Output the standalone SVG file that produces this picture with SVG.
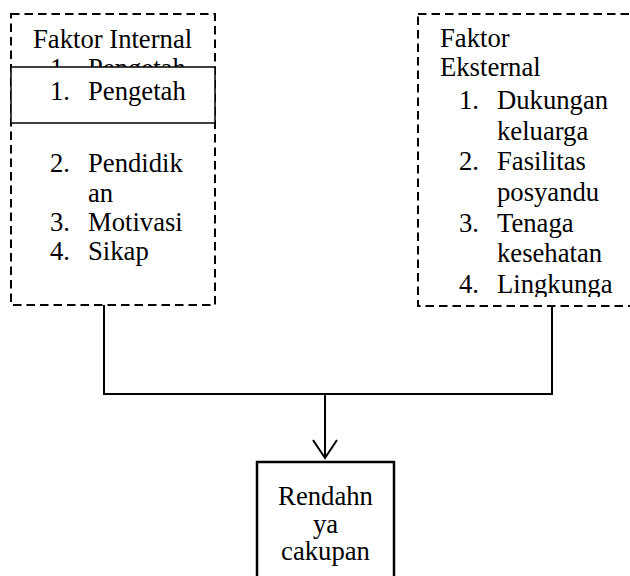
<svg xmlns="http://www.w3.org/2000/svg" width="630" height="576" viewBox="0 0 630 576">
<defs>
<style>
.t{font-family:'Liberation Serif','DejaVu Serif','Times New Roman',serif;font-size:26.67px;fill:#000}
.dash{fill:none;stroke:#000;stroke-width:2;stroke-dasharray:8.5 5}
.ln{fill:none;stroke:#000;stroke-width:2}
</style>
<clipPath id="cr"><rect x="418" y="14" width="212" height="283"/></clipPath>
<marker id="arr" markerWidth="30" markerHeight="30" refX="19" refY="13" orient="auto" markerUnits="userSpaceOnUse" viewBox="0 0 30 30"><path d="M1,1 L19,13 L1,25" fill="none" stroke="#000" stroke-width="2"/></marker>
</defs>
<rect width="630" height="576" fill="#fff"/>
<g id="internal">
<rect class="dash" x="11" y="14" width="204" height="291"/>
<text class="t" font-family="Liberation Serif, serif" x="33" y="48">Faktor Internal</text>
<text class="t" x="50" y="77">1.</text><text class="t" x="88" y="77">Pengetah</text>
<rect x="11" y="67" width="204" height="56" fill="#fff" stroke="#000" stroke-width="1.5"/>
<text class="t" x="50" y="100">1.</text><text class="t" x="88" y="100">Pengetah</text>
<text class="t" x="50" y="172">2.</text><text class="t" x="88" y="172">Pendidik</text>
<text class="t" x="88" y="201.5">an</text>
<text class="t" x="50" y="231">3.</text><text class="t" x="88" y="231">Motivasi</text>
<text class="t" x="50" y="260">4.</text><text class="t" x="88" y="260">Sikap</text>
</g>
<g id="eksternal">
<rect class="dash" x="418" y="14" width="240" height="292"/>
<g clip-path="url(#cr)">
<text class="t" x="440" y="47">Faktor</text>
<text class="t" x="440" y="76">Eksternal</text>
<text class="t" x="459" y="109">1.</text><text class="t" x="497" y="109">Dukungan</text>
<text class="t" x="497" y="139.5">keluarga</text>
<text class="t" x="459" y="170">2.</text><text class="t" x="497" y="170">Fasilitas</text>
<text class="t" x="497" y="201">posyandu</text>
<text class="t" x="459" y="231.5">3.</text><text class="t" x="497" y="231.5">Tenaga</text>
<text class="t" x="497" y="262">kesehatan</text>
<text class="t" x="459" y="293">4.</text><text class="t" x="497" y="293">Lingkunga</text>
</g>
</g>
<g id="connectors">
<polyline class="ln" points="104,305 104,394 552,394 552,306"/>
<line class="ln" x1="325" y1="394" x2="325" y2="458" marker-end="url(#arr)"/>
</g>
<g id="rendahnya">
<rect x="257" y="462" width="137" height="130" fill="#fff" stroke="#000" stroke-width="2.5"/>
<text class="t" x="325.5" y="505" text-anchor="middle">Rendahn</text>
<text class="t" x="325.5" y="533" text-anchor="middle">ya</text>
<text class="t" x="325.5" y="560" text-anchor="middle">cakupan</text>
</g>
</svg>
